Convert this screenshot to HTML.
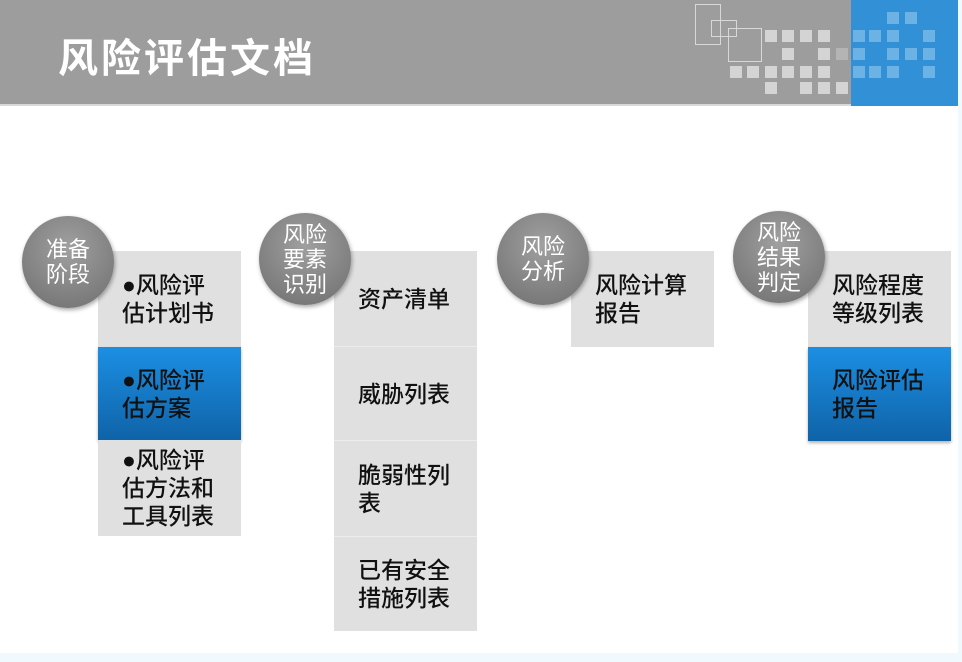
<!DOCTYPE html>
<html><head><meta charset="utf-8"><style>
*{margin:0;padding:0;box-sizing:border-box}
body{width:962px;height:662px;background:#fff;position:relative;overflow:hidden;font-family:"Liberation Sans","Noto Sans CJK SC",sans-serif}
.hdr{position:absolute;left:0;top:0;width:958px;height:106px;background:#9d9d9d;border-bottom:2px solid #d8d8d8}
.blue{position:absolute;left:851px;top:0;width:107px;height:106px;background:#3190d6}
.title{position:absolute;left:58px;top:26px;color:#fff;font-size:40px;font-weight:bold;letter-spacing:3px}
.sq{position:absolute;width:12px;height:12px;background:#d4d4d4}
.bs{position:absolute;width:12px;height:12px;background:#6cb2e4}
.ol{position:absolute;border:1px solid #d8d8d8}
.box{position:absolute;background:#e0e0e0;display:flex;align-items:center;padding-left:24px;font-size:23px;line-height:28px;color:#111;font-weight:500}
.bb{background:linear-gradient(#1c8fe3,#0f63a8);box-shadow:0 2px 3px rgba(0,0,0,.3)}
.c{position:absolute;width:92px;height:92px;border-radius:50%;background:radial-gradient(circle at 50% 35%,#a0a0a0,#6e6e6e);box-shadow:1px 2px 4px rgba(0,0,0,.35);color:#fff;font-size:22px;line-height:25px;display:flex;align-items:center;justify-content:center;text-align:center}
.foot{position:absolute;left:0;top:653px;width:962px;height:9px;background:#f0f9fd}
.rs{position:absolute;left:958px;top:0;width:4px;height:662px;background:#f0f9fd}
</style></head><body>
<div class="hdr"></div><div class="blue"></div>
<div class="title">风险评估文档</div>
<div class="ol" style="left:695px;top:4px;width:26px;height:41px"></div>
<div class="ol" style="left:711px;top:20px;width:26px;height:17px"></div>
<div class="ol" style="left:728px;top:28px;width:34px;height:34px"></div>
<div class="sq" style="left:765px;top:30px"></div><div class="sq" style="left:782px;top:30px"></div><div class="sq" style="left:800px;top:30px"></div><div class="sq" style="left:818px;top:30px"></div>
<div class="sq" style="left:782px;top:48px"></div><div class="sq" style="left:818px;top:48px"></div><div class="sq" style="left:836px;top:48px;background:#b4b4b4"></div>
<div class="sq" style="left:730px;top:66px"></div><div class="sq" style="left:747px;top:66px"></div><div class="sq" style="left:765px;top:66px"></div><div class="sq" style="left:782px;top:66px"></div><div class="sq" style="left:800px;top:66px"></div><div class="sq" style="left:818px;top:66px"></div>
<div class="sq" style="left:765px;top:82px"></div><div class="sq" style="left:800px;top:82px"></div><div class="sq" style="left:818px;top:82px"></div><div class="sq" style="left:836px;top:82px"></div>
<div class="bs" style="left:887px;top:12px"></div><div class="bs" style="left:905px;top:12px"></div>
<div class="bs" style="left:853px;top:30px"></div><div class="bs" style="left:869px;top:30px"></div><div class="bs" style="left:887px;top:30px"></div><div class="bs" style="left:923px;top:30px"></div>
<div class="bs" style="left:853px;top:48px"></div><div class="bs" style="left:887px;top:48px"></div><div class="bs" style="left:905px;top:48px"></div><div class="bs" style="left:923px;top:48px"></div>
<div class="bs" style="left:853px;top:66px"></div><div class="bs" style="left:869px;top:66px"></div><div class="bs" style="left:887px;top:66px"></div><div class="bs" style="left:923px;top:66px"></div>

<div class="box" style="left:98px;top:251px;width:143px;height:96px">●风险评<br>估计划书</div>
<div class="box bb" style="left:98px;top:347px;width:143px;height:93px">●风险评<br>估方案</div>
<div class="box" style="left:98px;top:440px;width:143px;height:96px">●风险评<br>估方法和<br>工具列表</div>
<div class="c" style="left:22px;top:216px">准备<br>阶段</div>

<div class="box" style="left:334px;top:251px;width:143px;height:96px;border-bottom:1px solid #ececec">资产清单</div>
<div class="box" style="left:334px;top:347px;width:143px;height:94px;border-bottom:1px solid #ececec">威胁列表</div>
<div class="box" style="left:334px;top:441px;width:143px;height:96px;border-bottom:1px solid #ececec">脆弱性列<br>表</div>
<div class="box" style="left:334px;top:537px;width:143px;height:94px">已有安全<br>措施列表</div>
<div class="c" style="left:259px;top:213px">风险<br>要素<br>识别</div>

<div class="box" style="left:571px;top:251px;width:143px;height:96px">风险计算<br>报告</div>
<div class="c" style="left:497px;top:213px">风险<br>分析</div>

<div class="box" style="left:808px;top:251px;width:143px;height:96px">风险程度<br>等级列表</div>
<div class="box bb" style="left:808px;top:347px;width:143px;height:94px">风险评估<br>报告</div>
<div class="c" style="left:733px;top:211px">风险<br>结果<br>判定</div>

<div class="foot"></div><div class="rs"></div>
</body></html>
